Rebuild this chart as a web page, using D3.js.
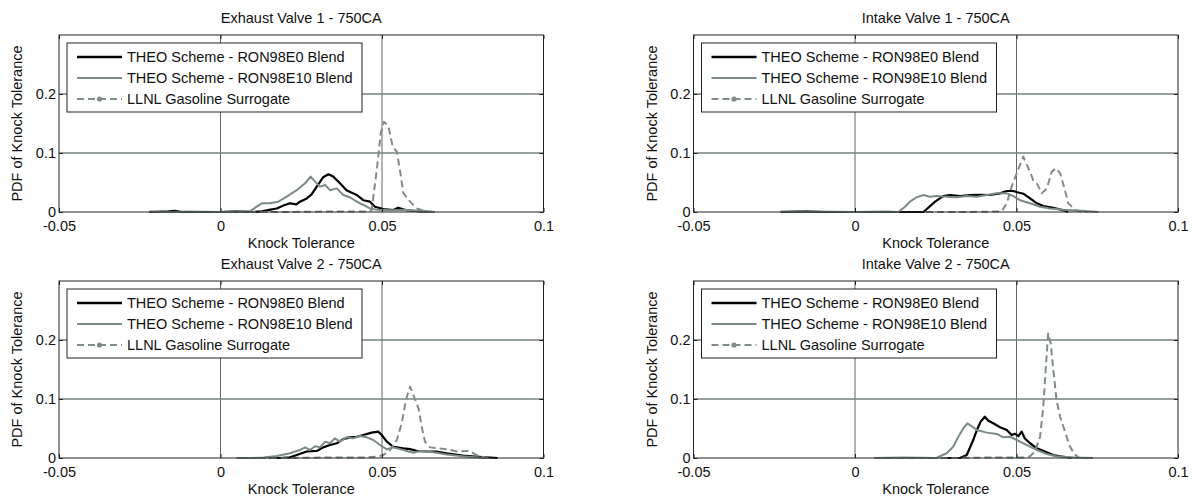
<!DOCTYPE html>
<html lang="en">
<head>
    <meta charset="UTF-8">
    <title>PDF of Knock Tolerance - 750CA</title>
    <script src="https://d3js.org/d3.v7.min.js"></script>
    <style>
        body {
            margin: 0;
            background: #fff;
            font-family: "Liberation Sans", Arial, sans-serif;
        }
        .grid-v {
            stroke: #555;
            stroke-width: 0.9;
        }
        .grid-h {
            stroke: #74807e;
            stroke-width: 1.3;
        }
        .tick-label {
            font-size: 14.5px;
            fill: #111;
        }
    </style>
</head>
<body>

<svg id="chart" width="1192" height="499"></svg>

<script>
    // panel titles, series names, ticks
    const titles = ["Exhaust Valve 1 - 750CA", "Intake Valve 1 - 750CA", "Exhaust Valve 2 - 750CA", "Intake Valve 2 - 750CA"];
    const seriesNames = ["THEO Scheme - RON98E0 Blend", "THEO Scheme - RON98E10 Blend", "LLNL Gasoline Surrogate"];
    const xTicks = [-0.05, 0, 0.05, 0.1];
    const xTickLabels = ["-0.05", "0", "0.05", "0.1"];
    const yTicks = [0, 0.1, 0.2];
    const yTickLabels = ["0", "0.1", "0.2"];

    // Exhaust Valve 1
    const ex1E0 = [[-0.022,0],[-0.016,0.001],[-0.014,0.002],[-0.012,0],[0.0,0],[0.005,0.001],[0.010,0],[0.0128,0.001],[0.0155,0.004],[0.0174,0.006],[0.0195,0.011],[0.0215,0.0147],[0.0235,0.013],[0.0246,0.0175],[0.0267,0.023],[0.0282,0.030],[0.0298,0.043],[0.0318,0.059],[0.0334,0.064],[0.0349,0.060],[0.037,0.0486],[0.039,0.037],[0.0405,0.033],[0.0422,0.0288],[0.0442,0.020],[0.0463,0.0175],[0.0478,0.009],[0.0504,0.005],[0.0535,0.0034],[0.055,0.0073],[0.0576,0.003],[0.0618,0.001],[0.0658,0]];
    const ex1E10 = [[-0.022,0.001],[-0.015,0],[-0.01,0.001],[0.0,0],[0.005,0.001],[0.0091,0.001],[0.0112,0.009],[0.0128,0.0147],[0.0153,0.0147],[0.0179,0.0175],[0.0205,0.026],[0.0236,0.037],[0.0262,0.0486],[0.0279,0.060],[0.0293,0.0514],[0.0308,0.043],[0.0324,0.0458],[0.0339,0.037],[0.036,0.040],[0.038,0.0288],[0.040,0.025],[0.0422,0.0175],[0.0442,0.012],[0.0463,0.006],[0.0483,0.004],[0.053,0.003],[0.0566,0.004],[0.0628,0.001],[0.0664,0]];
    const ex1LLNL = [[0.002,0],[0.02,0],[0.035,0.001],[0.04,0.001],[0.045,0.001],[0.0468,0.003],[0.0485,0.077],[0.0496,0.133],[0.0506,0.153],[0.052,0.145],[0.0533,0.111],[0.0546,0.102],[0.0557,0.066],[0.0566,0.032],[0.0587,0.0175],[0.0607,0.006],[0.0638,0.001],[0.0664,0]];

    // Intake Valve 1
    const in1E0 = [[-0.023,0],[-0.015,0.001],[-0.01,0],[0.0,0],[0.01,0],[0.0212,0],[0.0248,0.0175],[0.0273,0.027],[0.0294,0.0288],[0.0325,0.027],[0.0356,0.0288],[0.0387,0.029],[0.0418,0.0288],[0.0449,0.0316],[0.047,0.0356],[0.049,0.0356],[0.0506,0.033],[0.0521,0.031],[0.0542,0.023],[0.0563,0.0147],[0.0583,0.010],[0.0614,0.007],[0.0645,0.003],[0.066,0]];
    const in1E10 = [[-0.023,0.001],[-0.012,0.001],[0.0,0],[0.01,0.001],[0.0134,0],[0.0155,0.009],[0.017,0.0175],[0.0191,0.025],[0.0212,0.0288],[0.0232,0.026],[0.0253,0.027],[0.0284,0.026],[0.0315,0.025],[0.0346,0.027],[0.0377,0.026],[0.0408,0.0288],[0.0439,0.0316],[0.047,0.0316],[0.049,0.027],[0.0511,0.020],[0.0542,0.0147],[0.0573,0.009],[0.0604,0.006],[0.0645,0.004],[0.07,0.002],[0.0754,0]];
    const in1LLNL = [[0.022,0],[0.035,0],[0.0454,0.001],[0.047,0.015],[0.0485,0.043],[0.0501,0.066],[0.0521,0.094],[0.0537,0.074],[0.0552,0.054],[0.0563,0.0486],[0.0578,0.0316],[0.0594,0.040],[0.0609,0.068],[0.0622,0.074],[0.0635,0.066],[0.065,0.037],[0.066,0.015],[0.068,0.004],[0.0696,0.001],[0.072,0]];

    // Exhaust Valve 2
    const ex2E0 = [[0.015,0],[0.0184,0],[0.0215,0.001],[0.0236,0.005],[0.0267,0.011],[0.0298,0.012],[0.0318,0.018],[0.0339,0.022],[0.036,0.025],[0.038,0.032],[0.040,0.035],[0.0422,0.036],[0.0442,0.039],[0.0468,0.043],[0.0489,0.0446],[0.0499,0.039],[0.0515,0.0277],[0.0535,0.019],[0.0566,0.0164],[0.0587,0.015],[0.0607,0.012],[0.0638,0.011],[0.0669,0.011],[0.07,0.008],[0.075,0.004],[0.08,0.002],[0.0858,0]];
    const ex2E10 = [[0.005,0],[0.01,0],[0.0133,0.001],[0.0174,0.0034],[0.0215,0.008],[0.0246,0.0136],[0.0262,0.018],[0.0277,0.0136],[0.0293,0.020],[0.0308,0.018],[0.0324,0.0277],[0.0339,0.025],[0.0354,0.0333],[0.037,0.0277],[0.039,0.035],[0.0411,0.0333],[0.0432,0.0373],[0.0453,0.035],[0.0473,0.0305],[0.0494,0.022],[0.0515,0.0147],[0.0535,0.018],[0.0556,0.015],[0.0576,0.012],[0.0597,0.009],[0.0618,0.012],[0.0638,0.011],[0.0669,0.009],[0.07,0.006],[0.075,0.003],[0.08,0.001],[0.083,0]];
    const ex2LLNL = [[0.005,0],[0.02,0],[0.035,0.001],[0.045,0.001],[0.048,0.002],[0.0504,0.005],[0.0525,0.0136],[0.0546,0.0305],[0.0561,0.0588],[0.0574,0.098],[0.0587,0.121],[0.0599,0.104],[0.0613,0.084],[0.0623,0.053],[0.0633,0.0277],[0.0649,0.018],[0.0674,0.0164],[0.07,0.015],[0.0735,0.011],[0.077,0.012],[0.08,0.003],[0.083,0]];

    // Intake Valve 2
    const in2E0 = [[0.028,0],[0.0325,0],[0.0346,0.005],[0.0366,0.0305],[0.0377,0.047],[0.0389,0.0616],[0.0402,0.070],[0.0413,0.063],[0.0428,0.0588],[0.0449,0.052],[0.047,0.0475],[0.0485,0.039],[0.0496,0.041],[0.0506,0.037],[0.0516,0.0446],[0.0526,0.033],[0.0542,0.025],[0.0563,0.0164],[0.0588,0.011],[0.0614,0.005],[0.0635,0.003],[0.067,0]];
    const in2E10 = [[0.006,0],[0.015,0.001],[0.0253,0],[0.0263,0.003],[0.0284,0.008],[0.0304,0.019],[0.032,0.036],[0.0335,0.050],[0.0348,0.0588],[0.0361,0.054],[0.0377,0.0475],[0.0408,0.043],[0.0439,0.0407],[0.0459,0.035],[0.048,0.036],[0.0501,0.0305],[0.0532,0.022],[0.0563,0.0136],[0.0593,0.0068],[0.0624,0.003],[0.068,0.001],[0.0736,0]];
    const in2LLNL = [[0.006,0],[0.03,0],[0.045,0.001],[0.053,0.001],[0.0542,0.003],[0.0557,0.011],[0.0573,0.036],[0.0583,0.087],[0.0591,0.155],[0.0598,0.211],[0.0606,0.194],[0.0614,0.149],[0.0624,0.098],[0.0635,0.070],[0.065,0.045],[0.0665,0.02],[0.068,0.006],[0.0695,0]];

    const panelData = [
        [ex1E0, ex1E10, ex1LLNL],
        [in1E0, in1E10, in1LLNL],
        [ex2E0, ex2E10, ex2LLNL],
        [in2E0, in2E10, in2LLNL]
    ];

    // line styles per series
    const styles = [
        { color: "#000", width: 2.2, dash: null, marker: false },
        { color: "#7b8a88", width: 2.0, dash: null, marker: false },
        { color: "#7f8c8b", width: 2.0, dash: "7,4", marker: true }
    ];

    const svg = d3.select("#chart");
    const lefts = [59, 693.5];
    const tops = [35, 281];
    const width = 484.5;
    const height = 177;

    titles.forEach(function(title, i) {
        const left = lefts[i % 2];
        const top = tops[Math.floor(i / 2)];

        const g = svg.append("g")
            .attr("transform", `translate(${left},${top})`);

        const x = d3.scaleLinear().domain([-0.05, 0.1]).range([0, width]);
        const y = d3.scaleLinear().domain([0, 0.3]).range([height, 0]);

        // grid
        g.selectAll(".grid-v")
            .data([0, 0.05])
            .enter().append("line")
            .attr("class", "grid-v")
            .attr("x1", d => x(d)).attr("x2", d => x(d))
            .attr("y1", 0).attr("y2", height);

        g.selectAll(".grid-h")
            .data([0.1, 0.2])
            .enter().append("line")
            .attr("class", "grid-h")
            .attr("x1", 0).attr("x2", width)
            .attr("y1", d => y(d)).attr("y2", d => y(d));

        // curves
        const line = d3.line()
            .x(d => x(d[0]))
            .y(d => y(d[1]));

        panelData[i].forEach(function(series, s) {
            const st = styles[s];
            g.append("path")
                .datum(series)
                .attr("fill", "none")
                .attr("stroke", st.color)
                .attr("stroke-width", st.width)
                .attr("stroke-dasharray", st.dash)
                .attr("stroke-linejoin", "round")
                .attr("d", line);
        });

        // axes, ticks pointing inward (box on)
        g.append("g")
            .attr("transform", `translate(0,${height})`)
            .call(d3.axisBottom(x).tickValues(xTicks).tickSizeInner(-4).tickSizeOuter(0)
                .tickFormat((d, k) => xTickLabels[k]))
            .call(a => a.selectAll("text").attr("class", "tick-label").attr("dy", "0").attr("y", 19).style("font-size", null).attr("font-family", null));

        g.append("g")
            .call(d3.axisLeft(y).tickValues(yTicks).tickSizeInner(-4).tickSizeOuter(0)
                .tickFormat((d, k) => yTickLabels[k]))
            .call(a => a.selectAll("text").attr("class", "tick-label").attr("x", -3).attr("font-family", null));

        g.append("g")
            .call(d3.axisTop(x).tickValues(xTicks).tickSizeInner(-4).tickSizeOuter(0).tickFormat(""));

        g.append("g")
            .attr("transform", `translate(${width},0)`)
            .call(d3.axisRight(y).tickValues(yTicks).tickSizeInner(-4).tickSizeOuter(0).tickFormat(""));

        g.selectAll(".domain").remove();
        g.selectAll(".tick line").attr("stroke", "#222");

        g.append("rect")
            .attr("width", width)
            .attr("height", height)
            .attr("fill", "none")
            .attr("stroke", "#222")
            .attr("stroke-width", 1);

        // legend
        const lg = g.append("g").attr("transform", "translate(8,8)");
        lg.append("rect")
            .attr("width", 295)
            .attr("height", 69)
            .attr("fill", "#fff")
            .attr("stroke", "#222")
            .attr("stroke-width", 1);

        seriesNames.forEach(function(name, s) {
            const st = styles[s];
            const ly = 14 + s * 21;
            lg.append("line")
                .attr("x1", 10).attr("x2", 55)
                .attr("y1", ly).attr("y2", ly)
                .attr("stroke", st.color)
                .attr("stroke-width", s === 0 ? 2.6 : st.width)
                .attr("stroke-dasharray", st.dash);
            if (st.marker) {
                lg.append("circle")
                    .attr("cx", 32.5).attr("cy", ly)
                    .attr("r", 2.6)
                    .attr("fill", st.color);
            }
            lg.append("text")
                .attr("x", 60)
                .attr("y", ly)
                .attr("dy", "0.35em")
                .attr("font-size", "14.5px")
                .attr("fill", "#111")
                .text(name);
        });

        // labels
        g.append("text")
            .attr("x", width / 2)
            .attr("y", -17)
            .attr("dy", "0.35em")
            .attr("text-anchor", "middle")
            .attr("font-size", "14.5px")
            .attr("fill", "#111")
            .text(title);

        g.append("text")
            .attr("x", width / 2)
            .attr("y", height + 31)
            .attr("dy", "0.35em")
            .attr("text-anchor", "middle")
            .attr("font-size", "14.5px")
            .attr("fill", "#111")
            .text("Knock Tolerance");

        g.append("text")
            .attr("transform", `translate(-42,${height / 2}) rotate(-90)`)
            .attr("dy", "0.35em")
            .attr("text-anchor", "middle")
            .attr("font-size", "14.5px")
            .attr("fill", "#111")
            .text("PDF of Knock Tolerance");
    });
</script>

</body>
</html>
